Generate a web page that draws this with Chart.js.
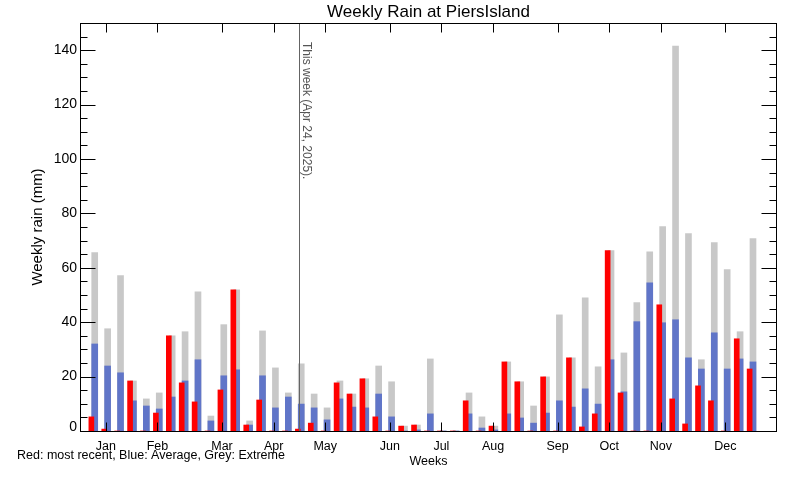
<!DOCTYPE html>
<html>
<head>
<meta charset="utf-8">
<script src="https://cdn.jsdelivr.net/npm/chart.js@4/dist/chart.umd.min.js"></script>
<style>
  html, body { margin: 0; padding: 0; background: #ffffff; }
  #wrap { width: 800px; height: 480px; }
</style>
</head>
<body>
<div id="wrap"><canvas id="c" width="800" height="480"></canvas></div>
<script>
// ---- data ----
const weeks = [1,2,3,4,5,6,7,8,9,10,11,12,13,14,15,16,17,18,19,20,21,22,23,24,25,26,
               27,28,29,30,31,32,33,34,35,36,37,38,39,40,41,42,43,44,45,46,47,48,49,50,51,52];
const recentRain = [5.2,0.7,0,18.4,0,6.6,35.0,17.7,10.7,0,15.1,51.9,2.2,11.4,0,0,0.7,2.9,0,17.7,
                    13.6,19.2,5.2,0,1.8,2.2,0,0,0,11.1,0,1.8,25.4,18.1,0,19.9,0,26.9,1.5,6.3,
                    66.3,14.0,0,0,46.4,11.8,2.6,16.6,11.1,0,33.9,22.8];
const averageRain = [32.0,23.9,21.4,11.1,9.2,8.1,12.5,18.4,26.2,3.7,20.3,22.5,2.2,20.3,8.5,12.5,9.9,8.5,4.1,11.8,
                     8.8,8.5,13.6,5.2,0,0.4,6.3,0,0,6.3,1.1,0.4,6.3,4.8,2.9,6.6,11.1,8.8,15.5,9.9,
                     26.2,14.4,40.2,54.5,39.8,40.9,26.9,22.8,36.1,22.8,26.5,25.4];
const extremeRain = [65.6,37.6,57.1,18.4,11.8,14.0,35.0,36.5,51.2,5.5,39.1,51.9,3.7,36.8,23.2,14.0,24.7,13.6,8.5,18.4,
                     13.6,19.2,23.9,18.1,1.8,2.2,26.5,0,0,14.0,5.2,1.8,25.4,18.1,9.2,19.9,42.7,26.9,49.0,23.6,
                     66.3,28.7,47.2,65.9,75.2,141.5,72.6,26.2,69.3,59.3,36.5,70.7];
const monthLabels = ['Jan','Feb','Mar','Apr','May','Jun','Jul','Aug','Sep','Oct','Nov','Dec'];
const monthTickWeeks = [2,6,11,15,19,24,28,32,37,41,45,50];
const yMajorTicks = [0,20,40,60,80,100,120,140];
const yMinorStep = 5;
const thisWeek = 17;
const thisWeekLabel = 'This week (Apr 24, 2025).';
const titleText = 'Weekly Rain at PiersIsland';
const yTitle = 'Weekly rain (mm)';
const xTitle = 'Weeks';
const legendText = 'Red: most recent, Blue: Average, Grey: Extreme';

// ---- styling ----
const RED = '#ff0000', BLUE = '#6075c8', GREY = '#c8c8c8';
const FONT = '"Liberation Sans", Arial, sans-serif';
const X_MIN = 0, X_MAX = 54;
const RED_SHIFT = -0.12, BLUE_SHIFT = 0.14;

const pts = arr => arr.map((v, i) => ({ x: weeks[i], y: v }));

const framePlugin = {
  id: 'frame',
  afterDraw(chart) {
    const ctx = chart.ctx;
    const a = chart.chartArea;
    const x = chart.scales.x, y = chart.scales.y;
    ctx.save();
    // this-week line
    const tx = Math.round(x.getPixelForValue(thisWeek)) + 0.5;
    ctx.strokeStyle = '#646464';
    ctx.lineWidth = 1;
    ctx.beginPath(); ctx.moveTo(tx, a.top); ctx.lineTo(tx, a.bottom); ctx.stroke();
    ctx.save();
    ctx.translate(tx + 3.5, a.top + 19);
    ctx.rotate(Math.PI / 2);
    ctx.fillStyle = '#555555';
    ctx.font = '12px ' + FONT;
    ctx.textAlign = 'left';
    ctx.textBaseline = 'alphabetic';
    ctx.fillText(thisWeekLabel, 0, 0);
    ctx.restore();

    // frame
    ctx.strokeStyle = '#000000';
    ctx.lineWidth = 1;
    const L = Math.round(a.left) + 0.5, R = Math.round(a.right) - 0.5;
    const T = Math.round(a.top) + 0.5, B = Math.round(a.bottom) + 0.5;
    ctx.strokeRect(L, T, R - L, B - T);

    // y ticks both sides
    ctx.beginPath();
    for (let v = 0; v <= y.max; v += yMinorStep) {
      const py = Math.round(y.getPixelForValue(v)) + 0.5;
      const len = yMajorTicks.includes(v) ? 15 : 7;
      ctx.moveTo(L, py); ctx.lineTo(L + len, py);
      ctx.moveTo(R, py); ctx.lineTo(R - len, py);
    }
    // month ticks top & bottom
    monthTickWeeks.forEach(w => {
      const px = Math.round(x.getPixelForValue(w)) + 0.5;
      ctx.moveTo(px, T); ctx.lineTo(px, T + 9);
      ctx.moveTo(px, B); ctx.lineTo(px, B - 9);
    });
    ctx.stroke();

    ctx.fillStyle = '#000000';
    // y tick labels
    ctx.font = '14px ' + FONT;
    ctx.textAlign = 'right';
    ctx.textBaseline = 'middle';
    yMajorTicks.forEach(v => {
      const py = y.getPixelForValue(v) - (v === 0 ? 4 : 0);
      ctx.fillText(String(v), a.left - 3, py);
    });
    // month labels
    ctx.font = '12.5px ' + FONT;
    ctx.textAlign = 'center';
    monthTickWeeks.forEach((w, i) => {
      ctx.fillText(monthLabels[i], x.getPixelForValue(w), a.bottom + 16);
    });
    // x title
    const cx = (a.left + a.right) / 2;
    ctx.fillText(xTitle, cx, a.bottom + 31);
    // legend text
    ctx.textAlign = 'left';
    ctx.fillText(legendText, 17, a.bottom + 25);
    // title
    ctx.font = '17px ' + FONT;
    ctx.textAlign = 'center';
    ctx.fillText(titleText, cx, 12);
    // y title
    ctx.save();
    ctx.translate(37.5, (a.top + a.bottom) / 2);
    ctx.rotate(-Math.PI / 2);
    ctx.font = '15px ' + FONT;
    ctx.textAlign = 'center';
    ctx.textBaseline = 'middle';
    ctx.fillText(yTitle, 0, 0);
    ctx.restore();
    ctx.restore();
  }
};

new Chart(document.getElementById('c'), {
  type: 'bar',
  data: {
    datasets: [
      { label: 'Red: most recent', data: pts(recentRain), xAxisID: 'xr', yAxisID: 'y',
        backgroundColor: RED, barThickness: 5, grouped: false, order: 0 },
      { label: 'Blue: Average', data: pts(averageRain), xAxisID: 'xb', yAxisID: 'y',
        backgroundColor: BLUE, barThickness: 6, grouped: false, order: 1 },
      { label: 'Grey: Extreme', data: pts(extremeRain), xAxisID: 'xb', yAxisID: 'y',
        backgroundColor: GREY, barThickness: 6, grouped: false, order: 2 }
    ]
  },
  options: {
    responsive: false,
    animation: false,
    devicePixelRatio: 1,
    layout: { padding: { left: 80, top: 23, right: 23, bottom: 49 } },
    plugins: { legend: { display: false }, tooltip: { enabled: false }, title: { display: false } },
    scales: {
      x:  { type: 'linear', display: false, offset: false, min: X_MIN, max: X_MAX },
      xr: { type: 'linear', display: false, offset: false, min: X_MIN - RED_SHIFT, max: X_MAX - RED_SHIFT },
      xb: { type: 'linear', display: false, offset: false, min: X_MIN - BLUE_SHIFT, max: X_MAX - BLUE_SHIFT },
      y:  { type: 'linear', display: false, min: 0, max: 150 }
    }
  },
  plugins: [framePlugin]
});
</script>
</body>
</html>
